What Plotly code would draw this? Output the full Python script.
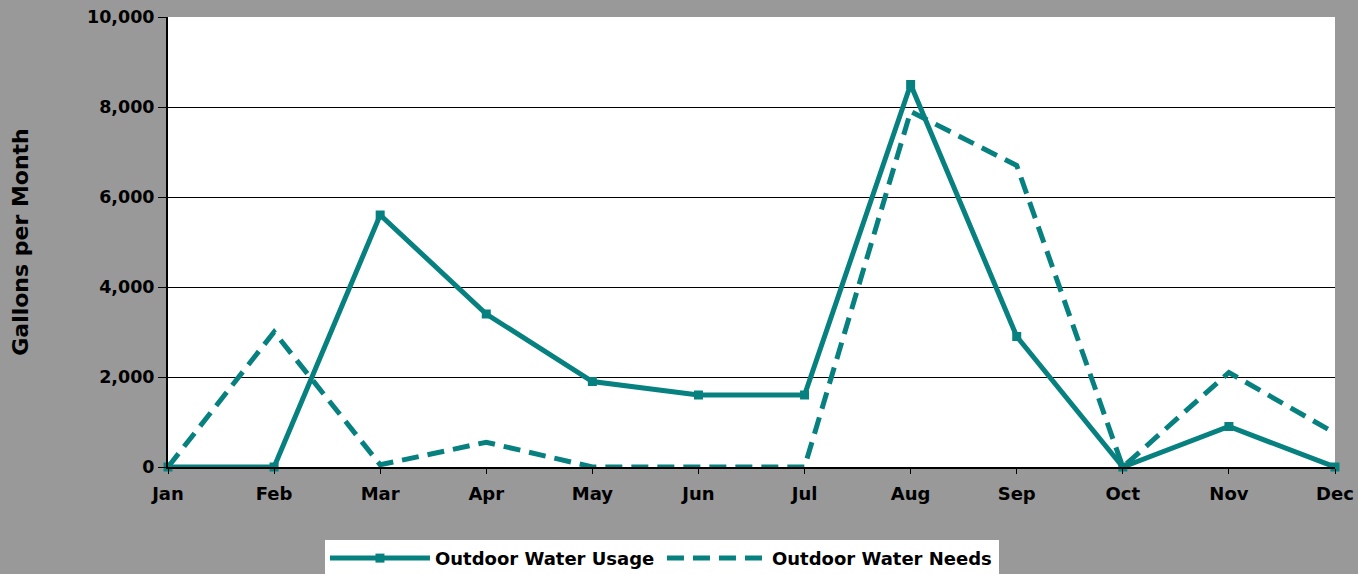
import plotly.graph_objects as go

months = ["Jan", "Feb", "Mar", "Apr", "May", "Jun", "Jul", "Aug", "Sep", "Oct", "Nov", "Dec"]
usage = [0, 0, 5600, 3400, 1900, 1600, 1600, 8500, 2900, 0, 900, 0]
needs = [0, 3000, 50, 550, 0, 0, 0, 7900, 6700, 0, 2100, 750]

teal = "#078080"
font_family = "DejaVu Sans"

fig = go.Figure()
fig.add_trace(go.Scatter(
    x=months, y=usage, name="Outdoor Water Usage", mode="lines+markers",
    line=dict(color=teal, width=5),
    marker=dict(symbol="square", size=9, color=teal),
    cliponaxis=False,
))
fig.add_trace(go.Scatter(
    x=months, y=needs, name="Outdoor Water Needs", mode="lines",
    line=dict(color=teal, width=5, dash="17px,9px"),
    cliponaxis=False,
))

fig.update_layout(
    width=1358, height=574,
    paper_bgcolor="#999999", plot_bgcolor="white",
    margin=dict(l=168, r=23, t=17, b=107, autoexpand=False),
    font=dict(family=font_family, size=17, color="black"),
    showlegend=True,
    legend=dict(
        orientation="h", x=0.1345, xanchor="left", y=-0.162, yanchor="top",
        bgcolor="white", font=dict(family=font_family, size=18, color="black", weight="bold"),
        entrywidth=222, itemwidth=100,
    ),
    xaxis=dict(
        range=[0, 11], showgrid=False, showline=True, linecolor="black", linewidth=2,
        ticks="outside", ticklen=5, tickcolor="black", tickwidth=1,
        tickfont=dict(family=font_family, size=18, color="black", weight="bold"),
        ticklabelstandoff=4,
    ),
    yaxis=dict(
        range=[0, 10000], tickvals=[0, 2000, 4000, 6000, 8000, 10000],
        tickformat=",d", showgrid=True, gridcolor="black", gridwidth=1,
        showline=True, linecolor="black", linewidth=2, zeroline=False,
        ticks="outside", ticklen=8, tickcolor="black", tickwidth=1,
        tickfont=dict(family=font_family, size=17.5, color="black", weight="bold"),
        title=dict(text="Gallons per Month", standoff=52,
                   font=dict(family=font_family, size=22, color="black", weight="bold")),
    ),
)

fig.write_html("out.html", config={"displayModeBar": False},
               post_script="document.body.style.margin='0';")
